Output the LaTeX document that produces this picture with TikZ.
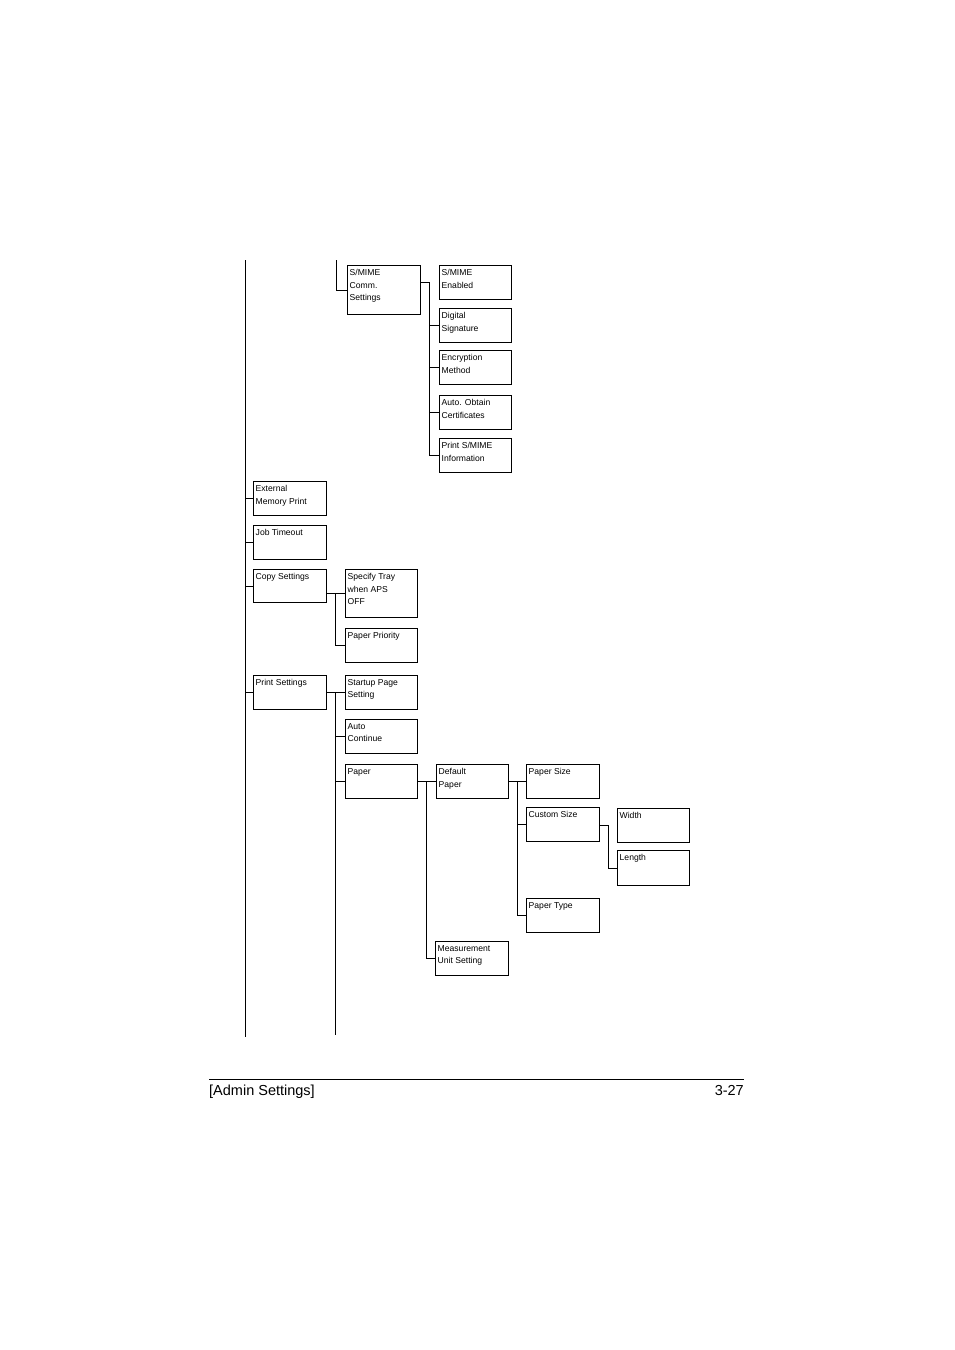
\documentclass[tikz,border=0pt]{standalone}
\usepackage{fontspec}
\setmainfont{Liberation Sans}
\begin{document}
\begin{tikzpicture}[x=1pt,y=-1pt,
  bx/.style={draw,line width=0.9pt,inner sep=0pt,anchor=north west},
  txt/.style={inner sep=0pt,anchor=north west,align=left,font=\fontsize{8.6}{12.6}\selectfont,xshift=2.5pt,yshift=-4pt},
  ln/.style={line width=0.9pt}]
\useasboundingbox (0,0) rectangle (954,1350);
\newcommand\bxx[7]{\node[bx,minimum width=#4,minimum height=#5] (#1) at (#2,#3) {};
  \node[txt] (#1t) at (#1.north west) {#6};}
\bxx{smc}{347}{265}{73}{49}{S/MIME\\Comm.\\Settings}{}
\bxx{sme}{439}{265}{72}{34}{S/MIME\\Enabled}{}
\bxx{dsg}{439}{308}{72}{34}{Digital\\Signature}{}
\bxx{enc}{439}{350}{72}{34}{Encryption\\Method}{}
\bxx{aoc}{439}{395}{72}{34}{Auto. Obtain\\Certificates}{}
\bxx{psi}{439}{438}{72}{34}{Print S/MIME\\Information}{}
\bxx{emp}{253}{481}{73}{34}{External\\Memory Print}{}
\bxx{jto}{253}{525}{73}{34}{Job Timeout}{}
\bxx{cps}{253}{569}{73}{33}{Copy Settings}{}
\bxx{stw}{345}{569}{72}{48}{Specify Tray\\when APS\\OFF}{}
\bxx{ppr}{345}{628}{72}{34}{Paper Priority}{}
\bxx{prs}{253}{675}{73}{34}{Print Settings}{}
\bxx{sps}{345}{675}{72}{34}{Startup Page\\Setting}{}
\bxx{auc}{345}{719}{72}{34}{Auto\\Continue}{}
\bxx{pap}{345}{764}{72}{34}{Paper}{}
\bxx{dfp}{436}{764}{72}{34}{Default\\Paper}{}
\bxx{psz}{526}{764}{73}{34}{Paper Size}{}
\bxx{csz}{526}{807}{73}{34}{Custom Size}{}
\bxx{wid}{617}{808}{72}{34}{Width}{}
\bxx{len}{617}{850}{72}{35}{Length}{}
\bxx{pty}{526}{898}{73}{34}{Paper Type}{}
\bxx{mus}{435}{941}{73}{34}{Measurement\\Unit Setting}{}
% main trunk
\coordinate (t0) at (245,260); \coordinate (t1) at (245,1037);
\draw[ln] (t0) -- (t1);
\foreach \n in {emp,jto,cps,prs} \draw[ln] (\n.west) -- (\n.west -| t0);
% S/MIME
\coordinate (s0) at (336,260);
\draw[ln] (s0) |- (smc.west);
\coordinate (s1) at (429,0);
\draw[ln] (smc.east |- sme.west) -- (sme.west -| s1) -- (psi.west -| s1) -- (psi.west);
\foreach \n in {dsg,enc,aoc} \draw[ln] (\n.west) -- (\n.west -| s1);
% copy
\coordinate (c1) at (335,0);
\draw[ln] (cps.east |- stw.west) -- (stw.west -| c1) -- (ppr.west -| c1) -- (ppr.west);
\draw[ln] (stw.west) -- (stw.west -| c1);
% print
\coordinate (p1) at (335,1035);
\draw[ln] (prs.east) -- (prs.east -| p1) -- (p1);
\foreach \n in {sps,auc,pap} \draw[ln] (\n.west) -- (\n.west -| p1);
% paper
\coordinate (q1) at (426,0);
\draw[ln] (pap.east) -- (pap.east -| q1) -- (mus.west -| q1) -- (mus.west);
\draw[ln] (dfp.west) -- (dfp.west -| q1);
\coordinate (r1) at (517,0);
\draw[ln] (dfp.east) -- (dfp.east -| r1) -- (pty.west -| r1) -- (pty.west);
\foreach \n in {psz,csz} \draw[ln] (\n.west) -- (\n.west -| r1);
\coordinate (u1) at (608,0);
\draw[ln] (csz.east |- wid.west) -- (wid.west -| u1) -- (len.west -| u1) -- (len.west);
% footer
\coordinate (f0) at (209,1079); \coordinate (f1) at (744,1079);
\draw[line width=0.8pt] (f0) -- (f1);
\node[anchor=north west,inner sep=0pt,font=\fontsize{14.5}{16}\selectfont] (fl) at (209,1085) {[Admin Settings]};
\node[anchor=north east,inner sep=0pt,font=\fontsize{14.5}{16}\selectfont] (fr) at (744,1085) {3-27};
\end{tikzpicture}
\end{document}
